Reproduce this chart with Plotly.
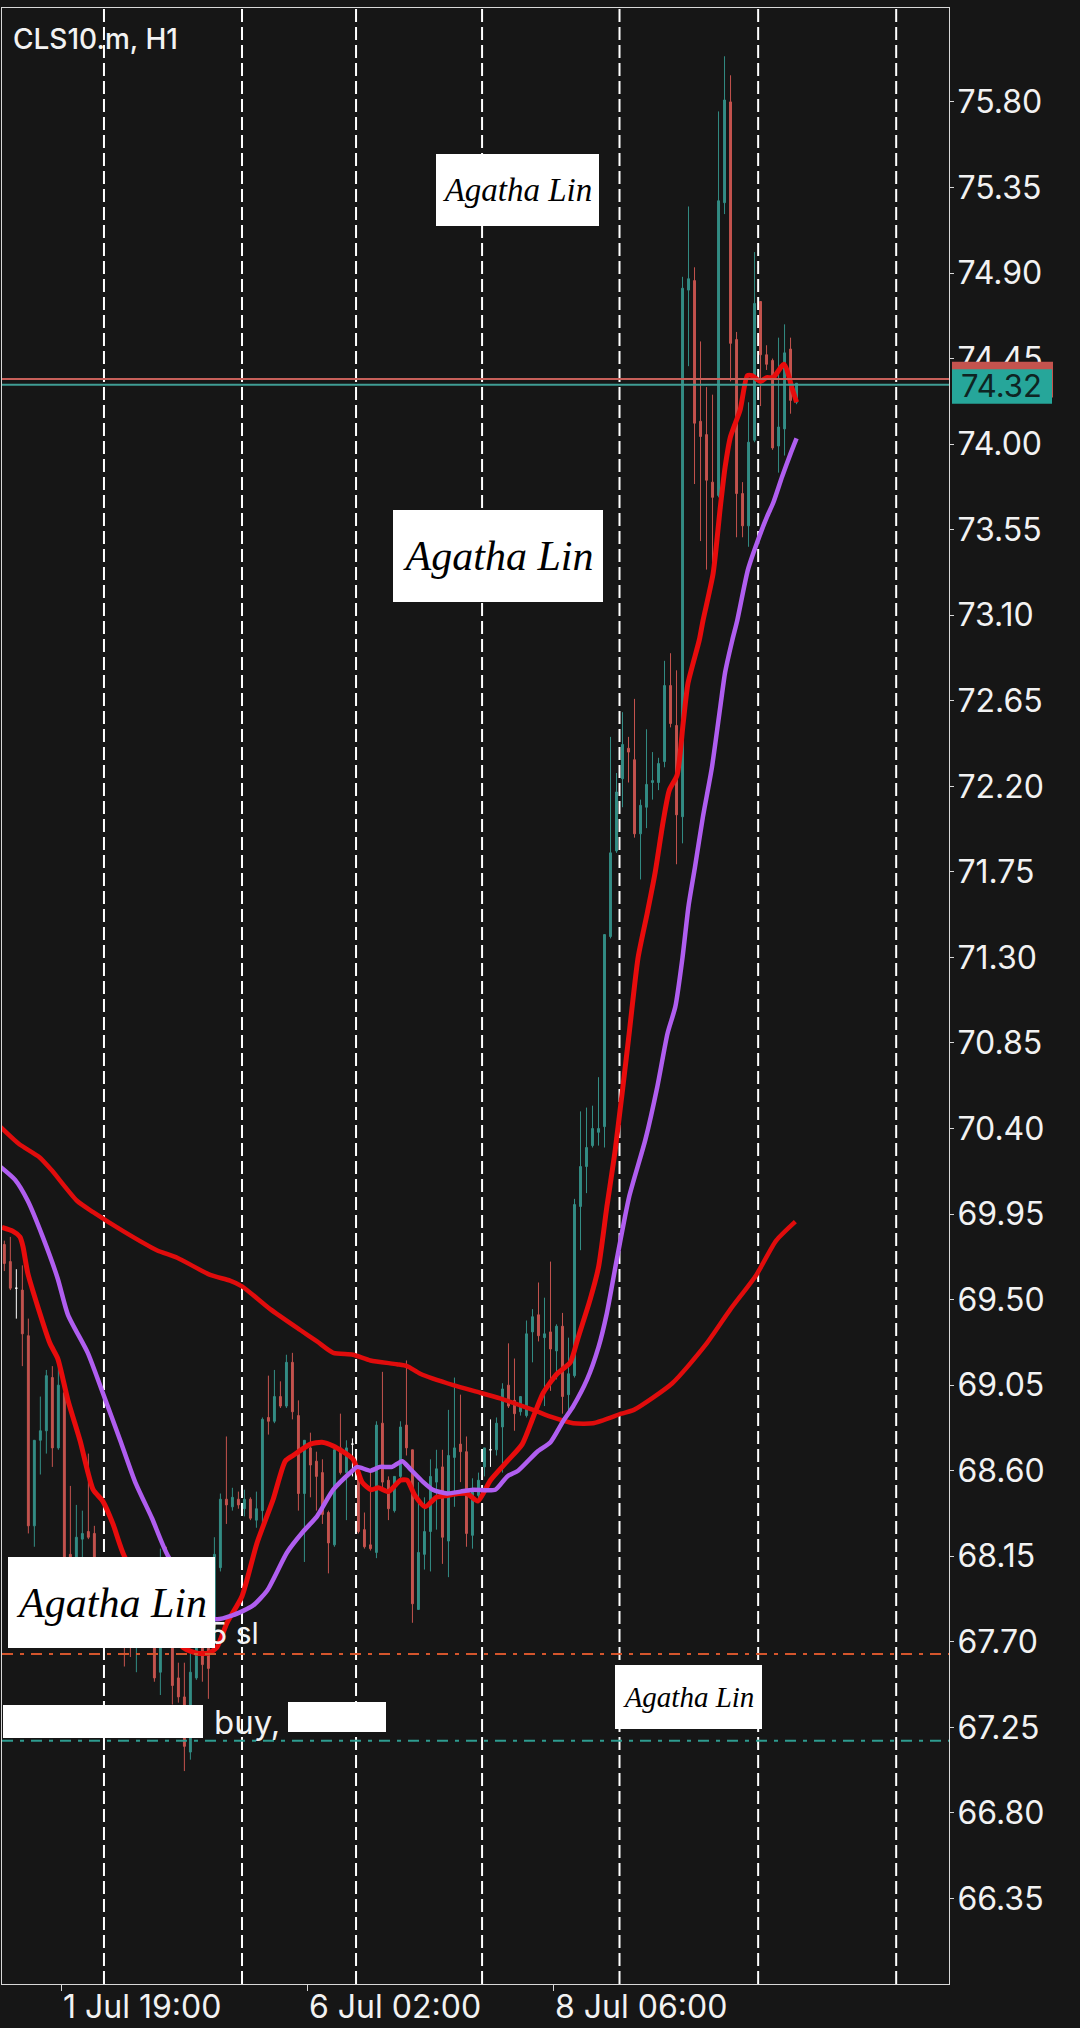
import plotly.graph_objects as go

# H1 bars, left to right
opens = [69.79,69.70,69.56,69.55,69.31,68.31,68.76,68.81,69.09,68.72,69.01,68.16,67.97,68.24,68.28,68.27,67.92,68.00,67.89,67.79,
         67.87,67.82,67.68,67.76,67.71,67.71,67.54,68.03,67.71,67.51,67.41,67.12,67.51,67.71,67.71,67.71,68.09,68.45,68.41,68.45,
         68.40,68.45,68.34,68.39,68.88,68.86,68.99,68.94,69.17,68.89,68.48,68.72,68.65,68.59,68.38,68.21,68.72,68.59,68.74,68.60,
         68.29,68.21,68.17,68.85,68.55,68.39,68.57,68.84,68.71,67.87,68.16,68.28,68.54,68.62,68.23,68.67,68.74,68.70,68.26,68.47,
         68.62,68.71,68.71,68.83,69.05,68.97,68.91,68.89,69.33,69.42,69.30,69.33,69.23,69.36,69.00,69.10,69.99,70.20,70.31,70.38,
         70.41,71.41,71.86,72.24,72.40,72.34,71.95,72.09,72.22,72.22,72.33,72.73,72.52,72.04,74.81,74.86,74.12,74.05,73.80,73.73,
         75.27,75.80,74.55,73.74,73.57,74.02,74.75,74.47,74.44,73.99,74.08,74.50,74.22]
highs = [69.81,69.83,69.66,69.68,69.40,68.76,68.99,69.13,69.15,69.15,69.08,68.52,68.42,68.39,68.69,68.31,68.07,68.05,67.95,67.97,
         67.92,67.87,67.84,67.82,67.80,67.76,68.19,68.20,67.76,67.59,67.59,67.66,67.76,67.76,67.76,68.25,68.48,68.78,68.51,68.49,
         68.50,68.46,68.49,68.88,69.10,69.13,69.07,69.21,69.22,68.97,68.76,68.80,68.70,68.66,68.39,68.72,68.90,68.76,68.77,68.61,
         68.38,68.60,68.86,69.12,68.57,68.57,68.86,69.18,68.71,68.54,68.46,68.66,68.71,68.71,68.92,69.09,69.00,68.78,68.56,68.59,
         68.72,68.87,68.88,69.06,69.27,69.19,68.99,69.39,69.45,69.59,69.51,69.70,69.37,69.43,69.30,70.03,70.49,70.51,70.52,70.67,
         71.42,72.46,72.27,72.59,72.46,72.66,72.13,72.50,72.38,72.35,72.86,72.90,72.81,74.88,75.25,74.93,74.54,74.30,74.26,75.75,
         76.04,75.94,74.59,73.80,74.22,75.01,74.75,74.52,74.45,74.56,74.63,74.56,74.32]
lows = [69.65,69.55,69.40,69.15,68.27,68.20,68.58,68.69,68.62,68.71,67.92,67.87,67.87,68.10,68.24,67.82,67.87,67.82,67.74,67.74,
        67.57,67.62,67.54,67.68,67.68,67.49,67.42,67.68,67.37,67.38,67.02,67.08,67.50,67.49,67.40,67.66,68.07,68.32,68.39,68.40,
        68.36,68.34,68.30,68.30,68.79,68.85,68.93,68.93,68.87,68.39,68.12,68.46,68.39,68.32,68.06,68.20,68.58,68.34,68.57,68.27,
        68.19,68.18,68.14,68.51,68.34,68.38,68.55,68.68,67.80,67.87,68.08,68.07,68.29,68.11,68.04,68.41,68.54,68.20,68.19,68.45,
        68.57,68.62,68.68,68.59,68.93,68.81,68.89,68.88,69.17,69.28,68.94,69.02,69.08,68.90,68.91,69.09,69.76,70.06,70.30,70.31,
        70.30,71.40,71.85,72.09,72.22,71.93,71.71,71.98,72.13,72.18,72.30,72.51,71.79,71.90,74.41,73.79,73.49,73.34,73.35,73.72,
        75.21,74.33,73.51,73.51,73.46,74.01,74.20,74.39,73.97,73.85,73.94,74.16,74.21]
closes = [69.69,69.56,69.56,69.32,68.31,68.76,68.81,69.10,68.72,69.05,67.97,68.00,68.25,68.27,68.25,67.92,68.02,67.87,67.79,67.92,
          67.71,67.71,67.79,67.71,67.76,67.51,67.97,67.71,67.47,67.41,67.15,67.54,67.71,67.58,67.56,68.16,68.45,68.42,68.46,68.42,
          68.45,68.35,68.40,68.87,68.86,68.99,68.94,69.17,68.91,68.48,68.76,68.63,68.57,68.37,68.22,68.71,68.59,68.72,68.74,68.28,
          68.20,68.19,68.84,68.54,68.40,68.57,68.83,68.72,67.90,68.17,68.28,68.57,68.61,68.25,68.68,68.72,68.70,68.27,68.50,68.55,
          68.72,68.71,68.85,69.03,68.94,68.90,68.99,69.32,69.41,69.31,69.32,69.24,69.36,68.99,69.11,70.00,70.20,70.30,70.40,70.40,
          71.42,71.85,72.17,72.42,72.38,71.95,72.10,72.21,72.23,72.32,72.73,72.53,72.05,74.82,74.87,74.11,74.04,73.81,73.72,75.28,
          75.81,74.53,73.74,73.57,74.01,74.74,74.47,74.42,73.98,74.09,74.48,74.23,74.32]
bars = list(range(len(opens)))
doji_bars = [2, 58, 81]

# moving averages, read at selected bars
fast_x = [-0.4,1.4,2.6,3.1,3.9,5.6,7.6,8.9,10.6,12.6,14.8,16.4,18.1,20,29.8,32.1,34,35.4,37.1,39.6,42.1,44.8,46.8,48.1,51,52.9,54.8,58.1,59.6,61.1,62.3,64,66,67.1,68.4,70.1,72,73.8,75.6,77.1,78.9,81,83.8,86.3,88.1,89.8,92.1,94.3,95.6,97.6,99,100.4,101.8,104,105.6,107.1,108.4,109.8,110.8,112.1,113.1,113.9,115.8,116.4,118.1,119.3,120.1,121,122.6,123.8,124.6,126,127,128.1,129.9,131.3,132]
fast_y = [69.88,69.86,69.83,69.78,69.64,69.46,69.27,69.19,68.97,68.76,68.50,68.44,68.32,68.15,67.67,67.64,67.64,67.67,67.80,67.94,68.22,68.45,68.65,68.68,68.74,68.75,68.73,68.66,68.54,68.50,68.51,68.49,68.55,68.55,68.47,68.41,68.46,68.47,68.48,68.48,68.44,68.55,68.65,68.74,68.88,69.01,69.11,69.17,69.30,69.50,69.67,69.99,70.29,70.87,71.30,71.53,71.74,72.02,72.18,72.26,72.53,72.74,72.97,73.07,73.32,73.67,73.88,74.04,74.18,74.36,74.36,74.33,74.35,74.35,74.42,74.29,74.22]
mid_x = [-0.7,1.8,3.9,6.4,8.9,10.6,13.9,16.4,19.3,21.8,24.6,27.3,35.1,38.1,41.4,43.8,47.1,49.8,52.1,54.8,58,58.8,61,62.6,64.6,66.3,67.6,69.8,71.4,73.8,76,78.1,81.8,83.8,85.6,88.8,91,93.1,94.8,97.1,99,100.4,102.1,104.1,106.8,108.8,110.5,111.8,113,114,115.1,116.4,117.9,119.3,120.1,121.3,122.1,123.9,125.4,127.1,128.1,129.6,131,132]
mid_y = [70.20,70.13,70.02,69.83,69.61,69.42,69.22,69.01,68.76,68.54,68.35,68.15,67.82,67.84,67.89,67.97,68.17,68.28,68.36,68.50,68.60,68.62,68.60,68.62,68.62,68.65,68.61,68.54,68.50,68.48,68.49,68.50,68.50,68.57,68.60,68.70,68.75,68.86,68.94,69.08,69.25,69.43,69.72,70.04,70.34,70.62,70.90,71.04,71.30,71.57,71.78,72.04,72.30,72.62,72.80,72.97,73.07,73.34,73.48,73.62,73.69,73.83,73.95,74.03]
slow_x = [-0.7,2.4,5.8,7.9,12.1,14.8,19.8,25.4,28.8,34.3,37.6,39.6,44.3,49.3,52.1,54.8,58.1,61,65.4,67.1,69.3,74.8,79.3,82.6,88.1,91.4,94.8,98.1,102.8,104.9,111.3,116.8,121,125.3,128.6,131.8]
slow_y = [70.41,70.32,70.25,70.18,70.02,69.96,69.86,69.76,69.72,69.63,69.60,69.57,69.45,69.34,69.28,69.22,69.21,69.18,69.16,69.15,69.11,69.05,69.01,68.98,68.92,68.88,68.85,68.85,68.90,68.92,69.06,69.26,69.45,69.63,69.81,69.91]

separators = [16.6, 39.6, 58.6, 79.6, 102.5, 125.6, 148.6]
price_ticks = [66.35,66.80,67.25,67.70,68.15,68.60,69.05,69.50,69.95,70.40,70.85,71.30,71.75,72.20,72.65,73.10,73.55,74.00,74.45,74.90,75.35,75.80]
time_ticks = [9.45, 50.45, 91.45]
time_labels = ["1 Jul 19:00", "6 Jul 02:00", "8 Jul 06:00"]
ask, bid = 74.343, 74.312
sl_level, buy_level = 67.636, 67.18

W, H = 1080, 2028
BG = "#161616"
TEAL = "#338d85"
RED = "#c4534e"
FONT = "Inter"
L, R, T, B = 2, 949, 8, 1984


def px(x):
    return (x - L) / (R - L)


def py(y):
    return (B - y) / (B - T)


keep = [i for i in bars if i not in doji_bars]
fig = go.Figure()
fig.add_trace(go.Candlestick(
    x=keep,
    open=[opens[i] for i in keep], high=[highs[i] for i in keep],
    low=[lows[i] for i in keep], close=[closes[i] for i in keep],
    increasing=dict(line=dict(color=TEAL, width=1), fillcolor=TEAL),
    decreasing=dict(line=dict(color=RED, width=1), fillcolor=RED),
))
fig.add_trace(go.Candlestick(
    x=doji_bars,
    open=[opens[i] for i in doji_bars], high=[highs[i] for i in doji_bars],
    low=[lows[i] for i in doji_bars], close=[closes[i] for i in doji_bars],
    increasing=dict(line=dict(color="white", width=1), fillcolor="white"),
    decreasing=dict(line=dict(color="white", width=1), fillcolor="white"),
))
fig.add_trace(go.Scatter(x=slow_x, y=slow_y, mode="lines", line=dict(color="#e00c0c", width=4.5, shape="spline", smoothing=0.6)))
fig.add_trace(go.Scatter(x=fast_x, y=fast_y, mode="lines", line=dict(color="#e80c0c", width=5, shape="spline", smoothing=0.6)))
fig.add_trace(go.Scatter(x=mid_x, y=mid_y, mode="lines", line=dict(color="#b05ef0", width=4.5, shape="spline", smoothing=0.6)))

for s in separators:
    fig.add_vline(x=s, line=dict(color="white", width=2, dash="13px,5px"), layer="below")
fig.add_hline(y=ask, line=dict(color="#c8605a", width=2))
fig.add_hline(y=bid, line=dict(color="#3f9d94", width=2))
fig.add_hline(y=sl_level, line=dict(color="#d4552c", width=2, dash="11px,7px,4px,7px"))
fig.add_hline(y=buy_level, line=dict(color="#2e9c90", width=2, dash="11px,7px,4px,7px"))

# price tags on the axis
fig.add_shape(type="rect", xref="paper", yref="y", x0=px(952), x1=px(1053), y0=ask - 0.098, y1=ask + 0.09,
              fillcolor=RED, line_width=0, layer="above")
fig.add_shape(type="rect", xref="paper", yref="y", x0=px(952), x1=px(1052), y0=bid - 0.10, y1=bid + 0.082,
              fillcolor="#26a69a", line_width=0, layer="above")


def label(text, x, y, size, color="#f2f2f2", xanchor="left", weight=400):
    fig.add_annotation(text=text, xref="paper", yref="paper", x=px(x), y=py(y), xanchor=xanchor, yanchor="middle",
                       showarrow=False, font=dict(family=FONT, size=size, color=color, weight=weight))


def signature(x0, x1, y0, y1, size):
    fig.add_annotation(text="Agatha Lin", xref="paper", yref="paper", x=px(x0), y=py(y0), xanchor="left", yanchor="top",
                       width=x1 - x0, height=y1 - y0, bgcolor="white", borderpad=0, borderwidth=0, showarrow=False,
                       align="center", valign="middle",
                       font=dict(family="Liberation Serif", size=size, color="black", style="italic"))


def redaction(x0, x1, y0, y1):
    fig.add_annotation(text=" ", xref="paper", yref="paper", x=px(x0), y=py(y0), xanchor="left", yanchor="top",
                       width=x1 - x0, height=y1 - y0, bgcolor="white", borderpad=0, borderwidth=0, showarrow=False)


label("CLS10.m, H1", 11, 39, 28, weight=500)
label("5 sl", 207, 1633, 30)
label("buy,", 212, 1722, 33)
label("74.32", 1002, 386, 31, color="#0e2523", xanchor="center")
for t, s in zip(time_ticks, time_labels):
    label(s, 4.33 + 6 * t, 2006, 32)
signature(436, 599, 154, 226, 33)
signature(393, 603, 510, 602, 42)
signature(8, 215, 1557, 1648, 42)
signature(615, 762, 1665, 1729, 29)
redaction(3, 203, 1705, 1738)
redaction(288, 386, 1702, 1732)

fig.update_layout(
    width=W, height=H, paper_bgcolor=BG, plot_bgcolor=BG, showlegend=False, boxgap=0.55,
    margin=dict(l=L, r=W - R, t=T, b=H - B),
    font=dict(family=FONT, color="#f2f2f2"),
    xaxis=dict(range=[-0.39, 157.4], rangeslider=dict(visible=False), showgrid=False, zeroline=False,
               showline=True, mirror=True, linecolor="#d8d8d8", linewidth=1,
               tickmode="array", tickvals=time_ticks, ticktext=["", "", ""], ticks="outside", ticklen=6,
               tickcolor="#d8d8d8"),
    yaxis=dict(range=[65.90, 76.294], side="right", showgrid=False, zeroline=False,
               showline=True, mirror=True, linecolor="#d8d8d8", linewidth=1,
               tickmode="array", tickvals=price_ticks, ticktext=[f"{p:.2f}" for p in price_ticks],
               ticks="outside", ticklen=4, tickcolor="#d8d8d8", ticklabelstandoff=-3,
               tickfont=dict(family=FONT, size=32, color="#f2f2f2")),
)

fig.write_html("out.html", config={"displayModeBar": False}, post_script="document.body.style.margin='0';")
